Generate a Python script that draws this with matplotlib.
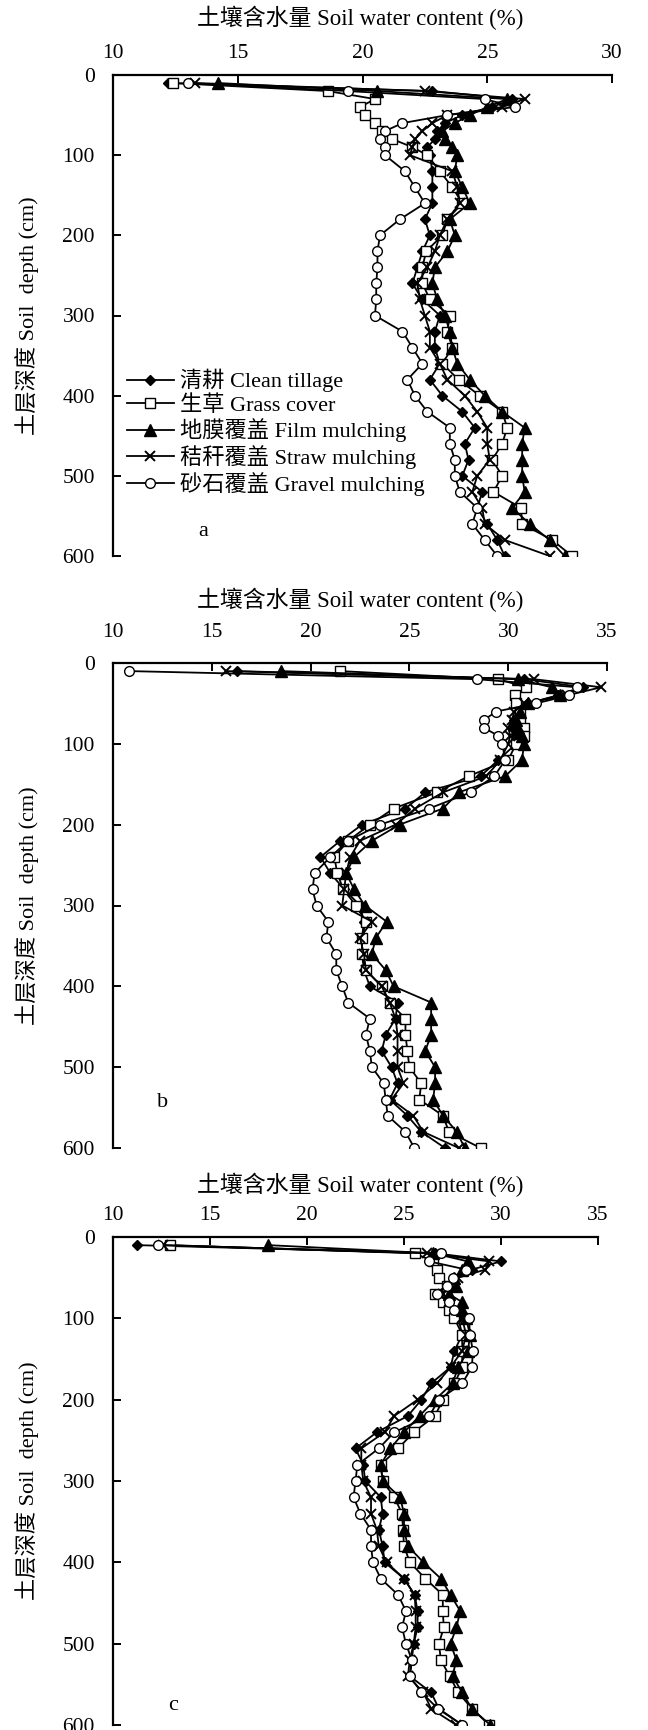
import matplotlib
matplotlib.use("Agg")
import matplotlib.pyplot as plt

FAM = ['Liberation Serif', 'Noto Sans CJK SC', 'DejaVu Sans']
plt.rcParams['font.family'] = FAM

depth = [10, 20, 30, 40, 50, 60, 70, 80, 90, 100,
         120, 140, 160, 180, 200, 220, 240, 260, 280, 300,
         320, 340, 360, 380, 400, 420, 440, 460, 480, 500,
         520, 540, 560, 580, 600]

# ---------- panel a ----------
a_clean = [12.2, 22.8, 26.0, 25.2, 24.0, 23.3, 23.0, 22.9, 22.6, 22.7,
           22.8, 22.8, 22.8, 22.5, 22.7, 22.4, 22.2, 22.0, 22.4, 23.1,
           22.9, 22.9, 23.1, 22.7, 23.2, 24.0, 24.5, 24.1, 24.25, 24.0,
           24.8, 24.6, 25.0, 25.4, 25.7]
a_grass = [12.4, 18.6, 20.5, 19.9, 20.1, 20.5, 20.8, 21.2, 22.0, 22.6,
           23.1, 23.6, 24.0, 23.4, 23.2, 22.55, 22.4, 22.4, 22.7, 23.5,
           23.4, 23.6, 23.2, 23.85, 24.7, 25.6, 25.8, 25.6, 25.2, 25.6,
           25.25, 26.35, 26.4, 27.6, 28.4]
a_film = [14.2, 20.6, 25.8, 25.0, 24.3, 23.7, 23.2, 23.3, 23.6, 23.8,
          23.7, 24.0, 24.3, 23.5, 23.7, 23.4, 22.9, 22.8, 23.0, 23.3,
          23.5, 23.6, 23.8, 24.3, 24.9, 25.6, 26.5, 26.4, 26.4, 26.4,
          26.5, 26.0, 26.7, 27.5, 28.1]
a_straw = [13.3, 22.5, 26.5, 25.6, 23.4, 22.8, 22.4, 22.1, 22.0, 21.9,
           23.6, 23.8, 23.9, 23.4, 23.1, 22.9, 22.6, 22.2, 22.3, 22.5,
           22.7, 22.7, 23.1, 23.4, 24.1, 24.6, 25.0, 25.0, 25.1, 24.6,
           24.4, 24.8, 24.9, 25.7, 27.5]
a_gravel = [13.0, 19.4, 24.9, 26.1, 23.4, 21.6, 20.9, 20.7, 20.9, 20.9,
            21.7, 22.1, 22.5, 21.5, 20.7, 20.6, 20.6, 20.55, 20.55, 20.5,
            21.6, 22.0, 22.4, 21.8, 22.1, 22.6, 23.5, 23.5, 23.7, 23.7,
            23.9, 24.6, 24.4, 24.9, 25.4]

# ---------- panel b ----------
b_clean = [16.25, 30.8, 33.8, 32.5, 31.0, 30.5, 30.3, 30.3, 30.4, 30.4,
           29.5, 28.6, 25.8, 24.8, 22.6, 21.5, 20.5, 21.0, 21.7, 22.5,
           22.7, 22.6, 22.6, 22.7, 23.0, 24.4, 24.3, 23.8, 23.6, 24.1,
           24.4, 24.0, 24.9, 25.6, 26.8]
b_grass = [21.5, 29.5, 30.9, 30.35, 30.4, 30.6, 30.6, 30.8, 30.8, 30.4,
           30.0, 28.0, 26.4, 24.2, 23.0, 21.9, 21.2, 21.35, 21.65, 22.3,
           22.8, 22.6, 22.6, 22.8, 23.6, 24.0, 24.8, 24.8, 24.9, 25.0,
           25.6, 25.5, 26.7, 27.0, 28.6]
b_film = [18.5, 30.5, 32.2, 32.6, 31.0, 30.6, 30.4, 30.5, 30.7, 30.8,
          30.7, 29.85, 27.5, 26.7, 24.5, 23.1, 22.2, 21.8, 22.2, 22.75,
          23.85, 23.3, 23.1, 23.8, 24.2, 26.1, 26.1, 26.1, 25.8, 26.3,
          26.3, 26.2, 26.7, 27.4, 27.8]
b_straw = [15.7, 31.3, 34.7, 33.0, 30.8, 30.3, 30.2, 30.0, 30.1, 30.0,
           29.6, 28.9, 26.7, 25.3, 24.3, 22.5, 22.0, 21.8, 21.7, 21.6,
           23.1, 22.5, 22.7, 22.8, 23.6, 24.0, 24.3, 24.4, 24.4, 24.4,
           24.7, 24.1, 25.2, 25.7, 27.5]
b_gravel = [10.8, 28.4, 33.5, 33.1, 31.4, 29.4, 28.8, 28.75, 29.5, 29.7,
            29.85, 29.3, 28.1, 26.0, 23.5, 21.9, 21.0, 20.2, 20.1, 20.3,
            20.9, 20.8, 21.3, 21.3, 21.6, 21.9, 23.0, 22.8, 23.0, 23.1,
            23.7, 23.8, 23.9, 24.8, 25.25]

# ---------- panel c ----------
c_clean = [11.24, 26.6, 30.0, 28.5, 27.5, 27.2, 26.8, 27.3, 27.6, 27.8,
           28.0, 27.6, 27.4, 26.4, 25.9, 25.2, 23.6, 22.5, 22.9, 23.0,
           23.8, 23.9, 23.7, 23.9, 24.0, 25.0, 25.55, 25.7, 25.7, 25.5,
           25.4, 25.3, 26.4, 26.8, 28.0]
c_grass = [12.95, 25.55, 26.5, 26.7, 26.8, 27.2, 26.6, 27.0, 27.3, 27.6,
           28.0, 28.0, 28.0, 27.6, 27.0, 26.6, 25.5, 24.7, 23.8, 23.9,
           24.5, 24.9, 24.95, 25.0, 25.3, 26.1, 27.0, 27.0, 27.05, 26.8,
           26.9, 27.35, 27.8, 28.5, 29.4]
c_film = [18.0, 26.5, 28.3, 28.0, 27.6, 27.7, 27.3, 28.0, 28.0, 28.2,
          28.4, 28.3, 27.8, 27.5, 26.6, 25.8, 25.0, 24.3, 23.8, 23.9,
          24.8, 25.0, 25.0, 25.2, 26.0, 26.9, 27.4, 27.9, 27.7, 27.4,
          27.7, 27.5, 28.0, 28.5, 29.45]
c_straw = [12.6, 26.2, 29.4, 29.2, 27.8, 27.3, 27.0, 27.3, 27.7, 28.0,
           28.2, 28.0, 27.4, 26.7, 25.7, 24.5, 24.0, 22.8, 22.8, 22.9,
           23.3, 23.3, 23.6, 23.7, 24.1, 25.0, 25.55, 25.6, 25.6, 25.5,
           25.3, 25.2, 26.0, 26.4, 27.7]
c_gravel = [12.3, 26.9, 26.3, 28.2, 27.5, 27.2, 26.7, 27.3, 27.6, 28.35,
            28.4, 28.55, 28.5, 28.0, 26.8, 26.3, 24.5, 23.7, 22.6, 22.5,
            22.4, 22.75, 23.3, 23.3, 23.4, 23.8, 24.7, 25.1, 24.9, 25.1,
            25.4, 25.3, 25.9, 26.75, 28.0]

labels = ['清耕 Clean tillage', '生草 Grass cover', '地膜覆盖 Film mulching',
          '秸秆覆盖 Straw mulching', '砂石覆盖 Gravel mulching']
styles = [dict(marker='D', mfc='black', ms=5.5),
          dict(marker='s', mfc='white', ms=7.2),
          dict(marker='^', mfc='black', ms=8),
          dict(marker='x', mfc='black', ms=7, mew=1.4),
          dict(marker='o', mfc='white', ms=7)]

W, H = 648, 1730
# axes boxes in pixels: left, right, top, bottom
boxes = [(113, 612, 75, 556), (113, 607, 663, 1148), (113, 598, 1237, 1725)]
panels = [
    dict(data=[a_clean, a_grass, a_film, a_straw, a_gravel], xmax=30,
         tag='a', tagpos=(13.6, 570), title_y=18, tickpad=8.5),
    dict(data=[b_clean, b_grass, b_film, b_straw, b_gravel], xmax=35,
         tag='b', tagpos=(12.5, 544), title_y=600, tickpad=15.0),
    dict(data=[c_clean, c_grass, c_film, c_straw, c_gravel], xmax=35,
         tag='c', tagpos=(13.1, 576), title_y=1185, tickpad=8.3),
]

fig = plt.figure(figsize=(W / 100, H / 100), dpi=100)

for i, (p, (l, r, t, b)) in enumerate(zip(panels, boxes)):
    ax = fig.add_axes([l / W, 1 - b / H, (r - l) / W, (b - t) / H])
    for series, lab, st in zip(p['data'], labels, styles):
        ax.plot(series, depth, color='black', lw=1.3, mec='black',
                label=lab, **st)
    ax.set_xlim(10, p['xmax'])
    ax.set_ylim(600, 0)
    ax.set_xticks(list(range(10, p['xmax'] + 1, 5)))
    ax.set_yticks([0, 100, 200, 300, 400, 500, 600])
    ax.xaxis.tick_top()
    for s in ['right', 'bottom']:
        ax.spines[s].set_visible(False)
    for s in ['top', 'left']:
        ax.spines[s].set_linewidth(1.6)
    ax.tick_params(axis='both', direction='in', length=6, width=1.4,
                   labelsize=15.5)
    ax.tick_params(axis='x', pad=p['tickpad'])
    ax.tick_params(axis='y', pad=13)
    fig.text(360 / W, 1 - p['title_y'] / H, '土壤含水量 Soil water content (%)',
             fontsize=16.5, ha='center', va='center', family=FAM)
    fig.text(27 / W, 1 - ((t + b) / 2) / H, '土层深度 Soil  depth (cm)',
             fontsize=16, ha='center', va='center', rotation=90, family=FAM)
    ax.text(p['tagpos'][0], p['tagpos'][1], p['tag'], fontsize=16,
            ha='center', va='center', family=FAM)
    if i == 0:
        ax.legend(loc='upper left',
                  bbox_to_anchor=((127 - l) / (r - l), (b - 369) / (b - t)),
                  frameon=False, fontsize=16, handlelength=2.1,
                  handletextpad=0.3, labelspacing=0.12, borderpad=0,
                  borderaxespad=0)

fig.savefig('out.png', dpi=100)
